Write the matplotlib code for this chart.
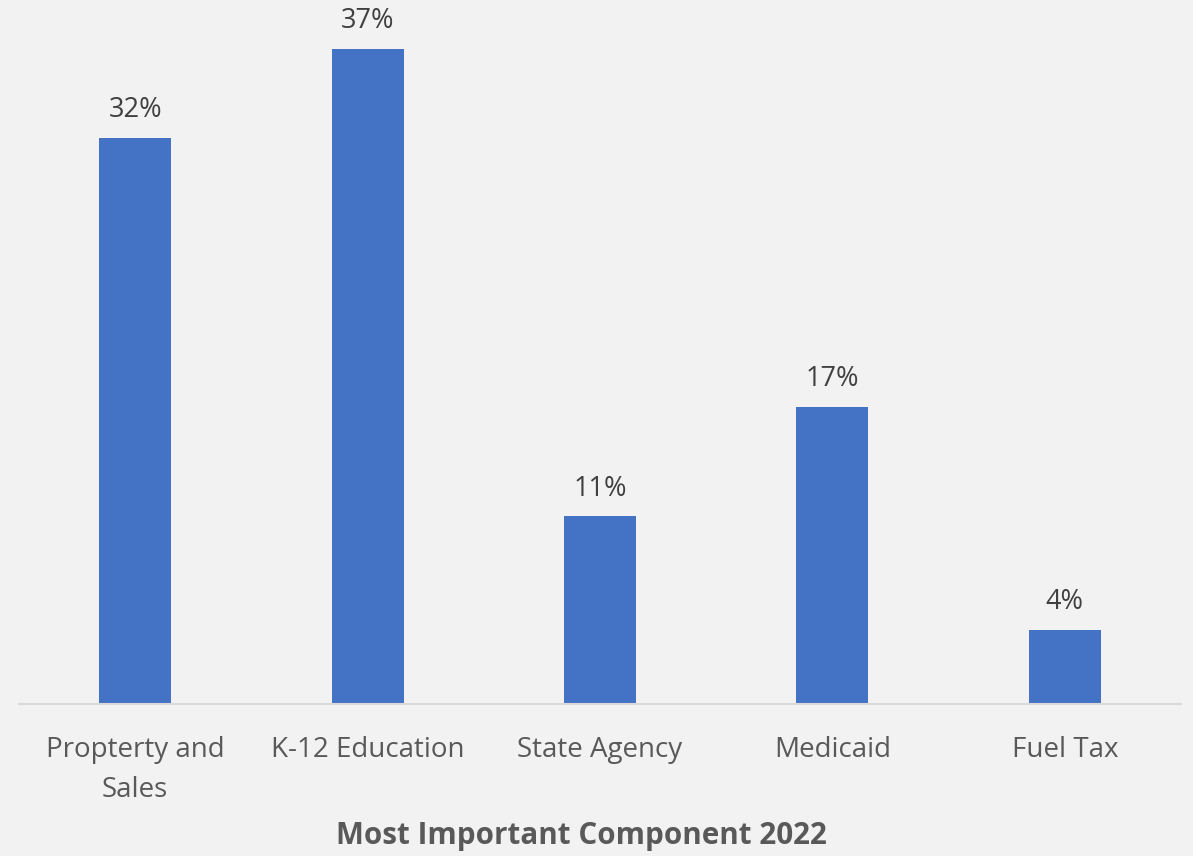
import matplotlib
matplotlib.use("Agg")
import matplotlib.pyplot as plt

categories = ["Propterty and\nSales", "K-12 Education", "State Agency", "Medicaid", "Fuel Tax"]
values = [32.0, 37.0, 10.6, 16.8, 4.2]
labels = ["32%", "37%", "11%", "17%", "4%"]
title = "Most Important Component 2022"

plt.rcParams['font.family'] = ['Open Sans', 'DejaVu Sans']

bg = "#F2F2F2"
fig = plt.figure(figsize=(11.93, 8.56), dpi=100, facecolor=bg)
ax = fig.add_axes([19/1193, 152/856, 1162/1193, 704/856])
ax.set_facecolor(bg)

x = range(len(categories))
bars = ax.bar(x, values, width=0.31, color="#4472C4", zorder=2)
ax.set_xlim(-0.5, len(categories) - 0.5)
ax.set_ylim(0, 39.77)

for xi, v, lab in zip(x, values, labels):
    ax.annotate(lab, (xi, v), xytext=(0, 15), textcoords="offset points",
                ha="center", va="baseline", fontsize=19.5, color="#404040")

for s in ["top", "right", "left"]:
    ax.spines[s].set_visible(False)
ax.spines["bottom"].set_color("#D9D9D9")
ax.spines["bottom"].set_linewidth(1.5)
ax.set_yticks([])
ax.set_xticks(list(x))
ax.set_xticklabels(categories, fontsize=20, color="#595959", linespacing=1.58)
ax.tick_params(axis="x", length=0, pad=23)

fig.text(581/1193, 1 - 836/856, title, ha="center", va="center", fontsize=21.3,
         fontweight="bold", color="#595959")

fig.savefig("out.png", dpi=100, facecolor=bg)
